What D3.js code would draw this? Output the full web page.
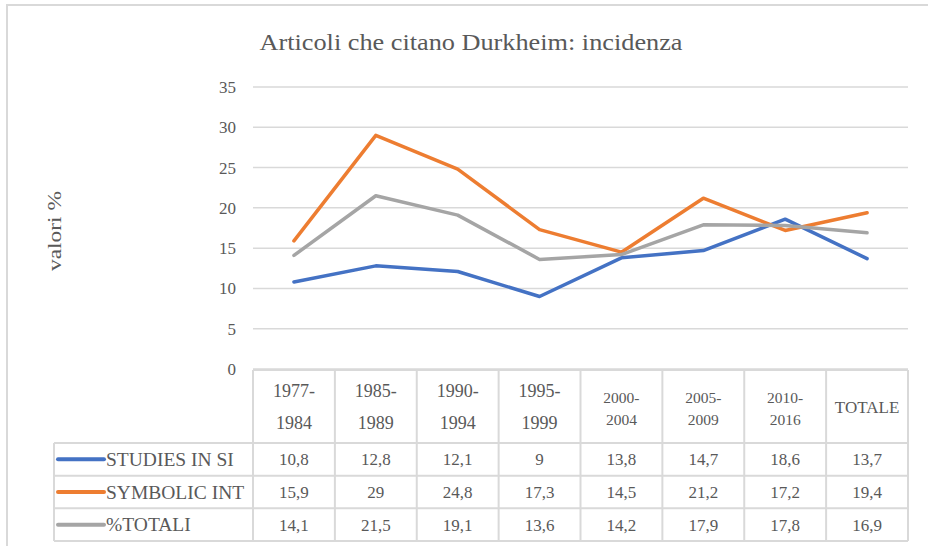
<!DOCTYPE html>
<html>
<head>
<meta charset="utf-8">
<script src="https://cdn.jsdelivr.net/npm/d3@7"></script>
</head>
<body style="margin:0">
<script>
// data
var categories = ['1977-1984', '1985-1989', '1990-1994', '1995-1999', '2000-2004', '2005-2009', '2010-2016', 'TOTALE']
var seriesNames = ['STUDIES IN SI', 'SYMBOLIC INT', '%TOTALI']
var studiesInSI = [10.8, 12.8, 12.1, 9, 13.8, 14.7, 18.6, 13.7]
var symbolicInt = [15.9, 29, 24.8, 17.3, 14.5, 21.2, 17.2, 19.4]
var totali = [14.1, 21.5, 19.1, 13.6, 14.2, 17.9, 17.8, 16.9]
var yTicks = [0, 5, 10, 15, 20, 25, 30, 35]
var seriesValues = [studiesInSI, symbolicInt, totali]

var color = d3.scaleOrdinal().domain(seriesNames).range(['#4472C4', '#ED7D31', '#A5A5A5'])
var textColor = '#595959'

var width = 928, height = 546
var svg = d3.select('body').append('svg')
  .attr('width', width)
  .attr('height', height)

// every text gets the serif font inline
function label(sel) {
  return sel.style('font-family', "'Liberation Serif'", 'important').style('fill', textColor)
}

// chart frame (cropped at right and bottom)
svg.append('rect')
  .attr('x', 7).attr('y', 5)
  .attr('width', 960).attr('height', 600)
  .attr('fill', 'none')
  .attr('stroke', '#d9d9d9')
  .attr('stroke-width', 2)

// title
svg.append('text')
  .attr('x', 471).attr('y', 50)
  .attr('text-anchor', 'middle')
  .call(label)
  .style('font-size', '24px')
  .attr('textLength', 423)
  .attr('lengthAdjust', 'spacingAndGlyphs')
  .text('Articoli che citano Durkheim: incidenza')

// scales
var x = d3.scaleBand().domain(categories).range([253, 908])
var y = d3.scaleLinear().domain([0, 35]).range([369, 87])

// gridlines
svg.append('g').selectAll('line').data(yTicks).enter().append('line')
  .attr('x1', 253).attr('x2', 908)
  .attr('y1', function (d) { return y(d) })
  .attr('y2', function (d) { return y(d) })
  .attr('stroke', '#d9d9d9')
  .attr('stroke-width', 1.5)

// y axis labels
svg.append('g').selectAll('text').data(yTicks).enter().append('text')
  .attr('x', 236)
  .attr('y', function (d) { return y(d) })
  .attr('dy', '0.35em')
  .attr('text-anchor', 'end')
  .call(label)
  .style('font-size', '17px')
  .text(function (d) { return d })

// y axis title
svg.append('text')
  .attr('transform', 'translate(61,231) rotate(-90)')
  .attr('text-anchor', 'middle')
  .call(label)
  .style('font-size', '18px')
  .attr('textLength', 80)
  .attr('lengthAdjust', 'spacingAndGlyphs')
  .text('valori %')

// lines
var line = d3.line()
  .x(function (d, i) { return x(categories[i]) + x.bandwidth() / 2 })
  .y(function (d) { return y(d) })

svg.append('g').selectAll('path').data(seriesNames).enter().append('path')
  .attr('d', function (d, i) { return line(seriesValues[i]) })
  .attr('fill', 'none')
  .attr('stroke', function (d) { return color(d) })
  .attr('stroke-width', 3.5)
  .attr('stroke-linejoin', 'round')
  .attr('stroke-linecap', 'round')

// data table
var headTop = 370, headBottom = 443, tableBottom = 541, tableLeft = 54
var row = d3.scaleBand().domain(seriesNames).range([headBottom, tableBottom])
var grid = svg.append('g')
  .attr('stroke', '#d9d9d9')
  .attr('stroke-width', 2)

grid.append('line').attr('x1', 253).attr('x2', 908).attr('y1', headTop).attr('y2', headTop)
grid.selectAll('.hline').data(seriesNames.concat(['end'])).enter().append('line')
  .attr('class', 'hline')
  .attr('x1', tableLeft).attr('x2', 908)
  .attr('y1', function (d) { return d == 'end' ? tableBottom : row(d) })
  .attr('y2', function (d) { return d == 'end' ? tableBottom : row(d) })
grid.selectAll('.vline').data(categories.concat(['end'])).enter().append('line')
  .attr('class', 'vline')
  .attr('x1', function (d) { return d == 'end' ? 908 : x(d) })
  .attr('x2', function (d) { return d == 'end' ? 908 : x(d) })
  .attr('y1', headTop).attr('y2', tableBottom)
grid.append('line').attr('x1', tableLeft).attr('x2', tableLeft).attr('y1', headBottom).attr('y2', tableBottom)

// header labels (first four wrap wider, like the original)
var head = svg.append('g').selectAll('text').data(categories).enter().append('text')
  .attr('text-anchor', 'middle')
  .call(label)
  .style('font-size', function (d, i) { return i < 4 ? '18px' : (d.indexOf('-') > 0 ? '15.5px' : '17px') })

head.each(function (d, i) {
  var t = d3.select(this)
  var cx = x(d) + x.bandwidth() / 2
  var parts = d.indexOf('-') > 0 ? [d.split('-')[0] + '-', d.split('-')[1]] : [d]
  if (parts.length == 1) {
    t.append('tspan').attr('x', cx).attr('y', 413).text(parts[0])
  } else if (i < 4) {
    t.append('tspan').attr('x', cx).attr('y', 397).text(parts[0])
    t.append('tspan').attr('x', cx).attr('y', 429).text(parts[1])
  } else {
    t.append('tspan').attr('x', cx).attr('y', 403).text(parts[0])
    t.append('tspan').attr('x', cx).attr('y', 425).text(parts[1])
  }
})

// legend keys + row labels
var rows = svg.append('g').selectAll('g').data(seriesNames).enter().append('g')
  .attr('transform', function (d) { return 'translate(0,' + (row(d) + row.bandwidth() / 2) + ')' })

rows.append('line')
  .attr('x1', 58).attr('x2', 104)
  .attr('stroke', function (d) { return color(d) })
  .attr('stroke-width', 4)
  .attr('stroke-linecap', 'round')

rows.append('text')
  .attr('x', 106)
  .attr('dy', '0.35em')
  .call(label)
  .style('font-size', '19.5px')
  .text(function (d) { return d })

rows.selectAll('.val').data(function (d, i) { return seriesValues[i] }).enter().append('text')
  .attr('class', 'val')
  .attr('x', function (d, i) { return x(categories[i]) + x.bandwidth() / 2 })
  .attr('dy', '0.35em')
  .attr('text-anchor', 'middle')
  .call(label)
  .style('font-size', '17px')
  .text(function (d) { return String(d).replace('.', ',') })
</script>
</body>
</html>
